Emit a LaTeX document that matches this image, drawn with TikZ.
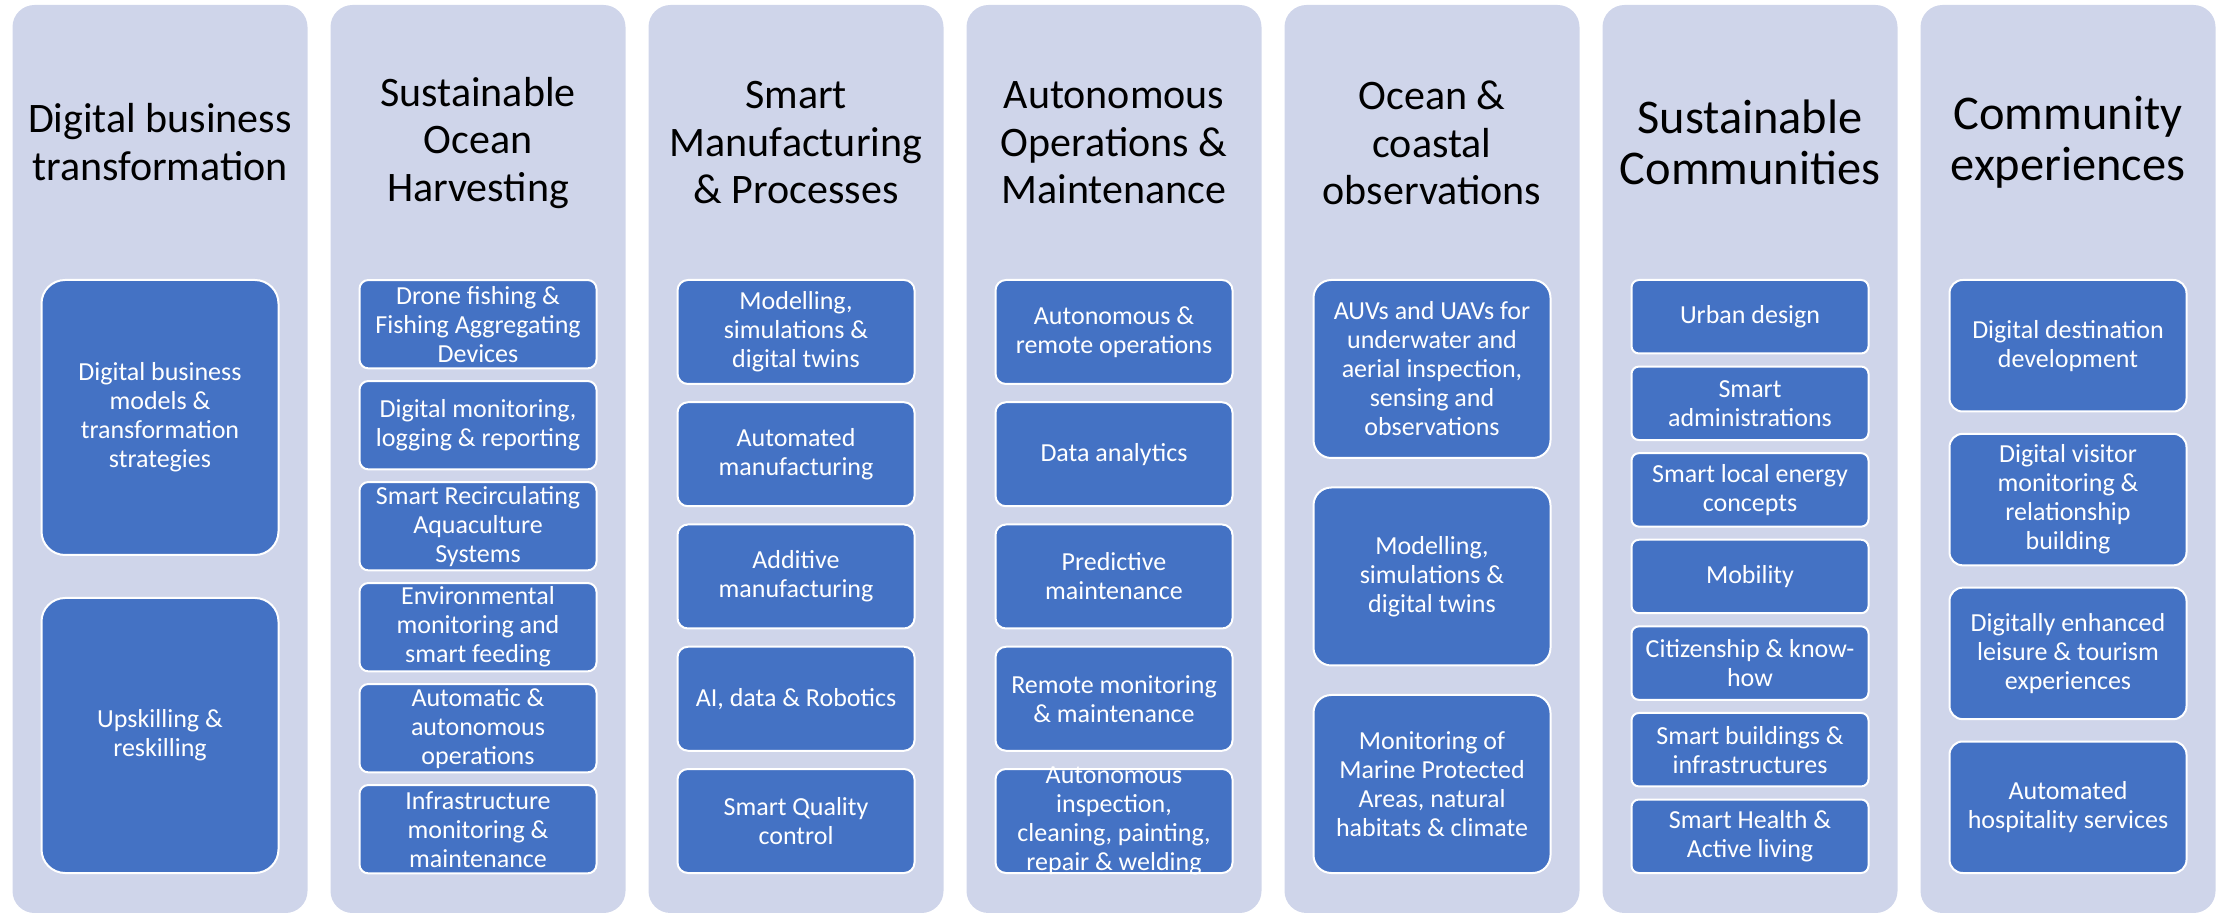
\documentclass[tikz,border=0pt]{standalone}
\usepackage{fontspec}
\setmainfont{Carlito}
\usepackage{tikz}
\definecolor{panelfill}{HTML}{CFD5EA}
\definecolor{itemfill}{HTML}{4472C4}
\tikzset{
  panel/.style={fill=panelfill, rounded corners=11pt, minimum width=147.5pt, minimum height=454pt, inner sep=0pt},
  heading/.style={align=center, text=black, font=\fontsize{21}{23.75}\selectfont},
  bigheading/.style={heading, font=\fontsize{24.2}{25.6}\selectfont},
  item/.style 2 args={draw=white, line width=1pt, fill=itemfill, text=white, align=center,
    minimum width=118.5pt, minimum height=#1, rounded corners=#2,
    inner xsep=0pt, inner ysep=-6pt, font=\fontsize{13}{14.5}\selectfont},
}

\begin{document}
\begin{tikzpicture}[x=0.5pt,y=-0.5pt]
        \useasboundingbox (0,0) rectangle (2221,913);

        \node[panel] (p1) at (160,459) {};
        \node[panel] (p2) at (478,459) {};
        \node[panel] (p3) at (796,459) {};
        \node[panel] (p4) at (1114,459) {};
        \node[panel] (p5) at (1432,459) {};
        \node[panel] (p6) at (1750,459) {};
        \node[panel] (p7) at (2068,459) {};

        \node[heading] (h1) at (160,142) {Digital business\\transformation};
        \node[heading] (h2) at (478,143) {Sustainable\\Ocean\\Harvesting};
        \node[heading] (h3) at (796,143) {Smart\\Manufacturing\\\& Processes};
        \node[heading] (h4) at (1114,143) {Autonomous\\Operations \&\\Maintenance};
        \node[heading] (h5) at (1432,143) {Ocean \&\\coastal\\observations};
        \node[bigheading] (h6) at (1750,142) {Sustainable\\Communities};
        \node[bigheading] (h7) at (2068,142) {Community\\experiences};

        \node[item={137.5pt}{11.8pt}] (a1) at (160,417.5) {Digital business\\models \&\\transformation\\strategies};
        \node[item={137.5pt}{11.8pt}] (a2) at (160,735.5) {Upskilling \&\\reskilling};

        \node[item={44.15pt}{4.4pt}] (b1) at (478,324.2) {Drone fishing \&\\Fishing Aggregating\\Devices};
        \node[item={44.15pt}{4.4pt}] (b2) at (478,425.2) {Digital monitoring,\\logging \& reporting};
        \node[item={44.15pt}{4.4pt}] (b3) at (478,526.2) {Smart Recirculating\\Aquaculture\\Systems};
        \node[item={44.15pt}{4.4pt}] (b4) at (478,627.2) {Environmental\\monitoring and\\smart feeding};
        \node[item={44.15pt}{4.4pt}] (b5) at (478,728.2) {Automatic \&\\autonomous\\operations};
        \node[item={44.15pt}{4.4pt}] (b6) at (478,829.2) {Infrastructure\\monitoring \&\\maintenance};

        \node[item={52pt}{5.2pt}] (c1) at (796,332) {Modelling,\\simulations \&\\digital twins};
        \node[item={52pt}{5.2pt}] (c2) at (796,454.25) {Automated\\manufacturing};
        \node[item={52pt}{5.2pt}] (c3) at (796,576.5) {Additive\\manufacturing};
        \node[item={52pt}{5.2pt}] (c4) at (796,698.75) {AI, data \& Robotics};
        \node[item={52pt}{5.2pt}] (c5) at (796,821) {Smart Quality\\control};

        \node[item={52pt}{5.2pt}] (d1) at (1114,332) {Autonomous \&\\remote operations};
        \node[item={52pt}{5.2pt}] (d2) at (1114,454.25) {Data analytics};
        \node[item={52pt}{5.2pt}] (d3) at (1114,576.5) {Predictive\\maintenance};
        \node[item={52pt}{5.2pt}] (d4) at (1114,698.75) {Remote monitoring\\\& maintenance};
        \node[item={52pt}{5.2pt}] (d5) at (1114,821) {Autonomous\\inspection,\\cleaning, painting,\\repair \& welding};

        \node[item={89pt}{8.9pt}] (e1) at (1432,369) {AUVs and UAVs for\\underwater and\\aerial inspection,\\sensing and\\observations};
        \node[item={89pt}{8.9pt}] (e2) at (1432,576.5) {Modelling,\\simulations \&\\digital twins};
        \node[item={89pt}{8.9pt}] (e3) at (1432,784) {Monitoring of\\Marine Protected\\Areas, natural\\habitats \& climate};

        \node[item={36.75pt}{3.7pt}] (f1) at (1750,316.75) {Urban design};
        \node[item={36.75pt}{3.7pt}] (f2) at (1750,403.3) {Smart\\administrations};
        \node[item={36.75pt}{3.7pt}] (f3) at (1750,489.9) {Smart local energy\\concepts};
        \node[item={36.75pt}{3.7pt}] (f4) at (1750,576.5) {Mobility};
        \node[item={36.75pt}{3.7pt}] (f5) at (1750,663.1) {Citizenship \& know-\\how};
        \node[item={36.75pt}{3.7pt}] (f6) at (1750,749.7) {Smart buildings \&\\infrastructures};
        \node[item={36.75pt}{3.7pt}] (f7) at (1750,836.25) {Smart Health \&\\Active living};

        \node[item={65.75pt}{6.6pt}] (g1) at (2068,345.75) {Digital destination\\development};
        \node[item={65.75pt}{6.6pt}] (g2) at (2068,499.6) {Digital visitor\\monitoring \&\\relationship\\building};
        \node[item={65.75pt}{6.6pt}] (g3) at (2068,653.4) {Digitally enhanced\\leisure \& tourism\\experiences};
        \node[item={65.75pt}{6.6pt}] (g4) at (2068,807.25) {Automated\\hospitality services};
    \end{tikzpicture}
\end{document}
